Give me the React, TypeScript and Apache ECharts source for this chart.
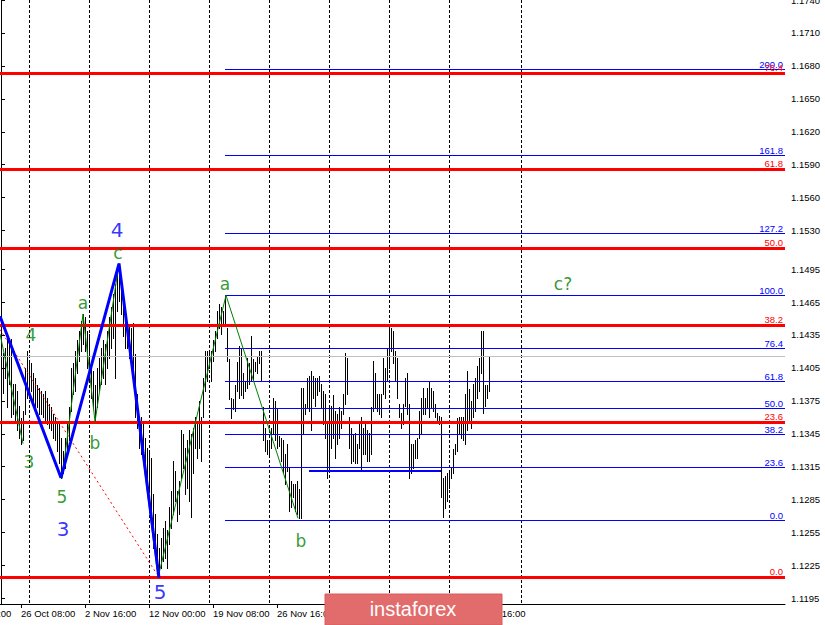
import React, { useEffect, useRef } from 'react';
import * as echarts from 'echarts';

// H4 bars: high / low for each bar index (0 = leftmost visible bar)
const highs = [
  1.1425, 1.1419, 1.1423, 1.1436, 1.1430, 1.1431, 1.1390, 1.1390, 1.1384, 1.1370,
  1.1359, 1.1366, 1.1405, 1.1420, 1.1411, 1.1409, 1.1400, 1.1396, 1.1389, 1.1387,
  1.1384, 1.1381, 1.1384, 1.1378, 1.1372, 1.1369, 1.1363, 1.1360, 1.1357, 1.1354,
  1.1341, 1.1329, 1.1341, 1.1354, 1.1369, 1.1405, 1.1409, 1.1420, 1.1430, 1.1439,
  1.1448, 1.1454, 1.1451, 1.1439, 1.1436, 1.1411, 1.1402, 1.1389, 1.1405, 1.1414,
  1.1423, 1.1430, 1.1427, 1.1439, 1.1451, 1.1460, 1.1472, 1.1481, 1.1493, 1.1500,
  1.1487, 1.1466, 1.1448, 1.1441, 1.1445, 1.1441, 1.1446, 1.1418, 1.1381, 1.1360,
  1.1360, 1.1354, 1.1341, 1.1332, 1.1329, 1.1323, 1.1290, 1.1272, 1.1254, 1.1241,
  1.1250, 1.1259, 1.1266, 1.1257, 1.1278, 1.1293, 1.1320, 1.1311, 1.1293, 1.1302,
  1.1348, 1.1345, 1.1332, 1.1339, 1.1348, 1.1345, 1.1350, 1.1360, 1.1357, 1.1375,
  1.1360, 1.1396, 1.1420, 1.1420, 1.1420, 1.1420, 1.1430, 1.1439, 1.1457, 1.1463,
  1.1460, 1.1457, 1.1471, 1.1441, 1.1413, 1.1378, 1.1377, 1.1389, 1.1410, 1.1425,
  1.1423, 1.1400, 1.1393, 1.1414, 1.1409, 1.1434, 1.1413, 1.1410, 1.1416, 1.1420,
  1.1420, 1.1369, 1.1350, 1.1339, 1.1339, 1.1350, 1.1378, 1.1375, 1.1368, 1.1343,
  1.1341, 1.1339, 1.1327, 1.1336, 1.1314, 1.1302, 1.1299, 1.1299, 1.1302, 1.1295,
  1.1387, 1.1387, 1.1372, 1.1396, 1.1398, 1.1402, 1.1398, 1.1396, 1.1396, 1.1398,
  1.1390, 1.1384, 1.1381, 1.1354, 1.1369, 1.1370, 1.1380, 1.1366, 1.1363, 1.1369,
  1.1366, 1.1381, 1.1419, 1.1414, 1.1360, 1.1350, 1.1345, 1.1346, 1.1336, 1.1357,
  1.1360, 1.1350, 1.1354, 1.1348, 1.1346, 1.1369, 1.1411, 1.1400, 1.1381, 1.1381,
  1.1381, 1.1414, 1.1405, 1.1423, 1.1441, 1.1441, 1.1439, 1.1420, 1.1414, 1.1372,
  1.1364, 1.1372, 1.1396, 1.1400, 1.1372, 1.1336, 1.1336, 1.1339, 1.1341, 1.1366,
  1.1378, 1.1387, 1.1378, 1.1387, 1.1393, 1.1387, 1.1384, 1.1372, 1.1364, 1.1361,
  1.1360, 1.1305, 1.1307, 1.1309, 1.1311, 1.1314, 1.1331, 1.1336, 1.1359, 1.1360,
  1.1360, 1.1360, 1.1381, 1.1402, 1.1386, 1.1375, 1.1390, 1.1396, 1.1407, 1.1414,
  1.1439, 1.1439, 1.1389, 1.1389, 1.1416,
];
const lows = [
  1.1389, 1.1382, 1.1396, 1.1369, 1.1390, 1.1360, 1.1363, 1.1357, 1.1348, 1.1341,
  1.1336, 1.1339, 1.1363, 1.1378, 1.1378, 1.1384, 1.1372, 1.1369, 1.1369, 1.1363,
  1.1363, 1.1360, 1.1357, 1.1354, 1.1350, 1.1348, 1.1341, 1.1339, 1.1329, 1.1318,
  1.1305, 1.1309, 1.1314, 1.1329, 1.1339, 1.1366, 1.1381, 1.1384, 1.1400, 1.1411,
  1.1420, 1.1427, 1.1420, 1.1405, 1.1393, 1.1378, 1.1369, 1.1356, 1.1369, 1.1384,
  1.1390, 1.1396, 1.1390, 1.1405, 1.1414, 1.1423, 1.1432, 1.1396, 1.1457, 1.1466,
  1.1454, 1.1434, 1.1423, 1.1423, 1.1414, 1.1405, 1.1393, 1.1360, 1.1350, 1.1332,
  1.1327, 1.1320, 1.1314, 1.1305, 1.1293, 1.1266, 1.1241, 1.1232, 1.1220, 1.1214,
  1.1223, 1.1229, 1.1232, 1.1223, 1.1245, 1.1259, 1.1272, 1.1284, 1.1266, 1.1272,
  1.1305, 1.1314, 1.1290, 1.1296, 1.1284, 1.1269, 1.1309, 1.1332, 1.1323, 1.1332,
  1.1320, 1.1360, 1.1384, 1.1393, 1.1405, 1.1393, 1.1411, 1.1420, 1.1432, 1.1441,
  1.1436, 1.1445, 1.1443, 1.1411, 1.1377, 1.1359, 1.1368, 1.1366, 1.1384, 1.1378,
  1.1380, 1.1378, 1.1384, 1.1387, 1.1390, 1.1393, 1.1393, 1.1402, 1.1400, 1.1409,
  1.1393, 1.1339, 1.1329, 1.1327, 1.1327, 1.1332, 1.1345, 1.1339, 1.1332, 1.1334,
  1.1320, 1.1309, 1.1299, 1.1311, 1.1275, 1.1278, 1.1287, 1.1275, 1.1272, 1.1268,
  1.1268, 1.1345, 1.1363, 1.1369, 1.1366, 1.1348, 1.1378, 1.1370, 1.1380, 1.1384,
  1.1369, 1.1354, 1.1341, 1.1305, 1.1311, 1.1332, 1.1341, 1.1323, 1.1336, 1.1341,
  1.1350, 1.1363, 1.1372, 1.1381, 1.1332, 1.1318, 1.1320, 1.1318, 1.1318, 1.1332,
  1.1311, 1.1327, 1.1327, 1.1320, 1.1320, 1.1327, 1.1366, 1.1369, 1.1366, 1.1363,
  1.1360, 1.1381, 1.1378, 1.1393, 1.1405, 1.1420, 1.1409, 1.1393, 1.1378, 1.1360,
  1.1350, 1.1354, 1.1370, 1.1363, 1.1305, 1.1309, 1.1314, 1.1323, 1.1323, 1.1341,
  1.1345, 1.1363, 1.1363, 1.1369, 1.1360, 1.1369, 1.1366, 1.1360, 1.1357, 1.1354,
  1.1287, 1.1269, 1.1277, 1.1284, 1.1296, 1.1305, 1.1309, 1.1327, 1.1329, 1.1345,
  1.1341, 1.1339, 1.1336, 1.1348, 1.1357, 1.1350, 1.1360, 1.1366, 1.1378, 1.1384,
  1.1400, 1.1364, 1.1370, 1.1378, 1.1384,
];

const yTicks = [
  1.1195, 1.1225, 1.1255, 1.1285, 1.1315, 1.1345, 1.1375, 1.1405, 1.1435, 1.1465,
  1.1495, 1.1530, 1.1560, 1.1590, 1.1620, 1.1650, 1.1680, 1.1710, 1.1740,
];
const xTickIdx = [10, 42, 74, 106, 138, 170, 202, 234];
const xTickText = [
  '26 Oct 08:00', '2 Nov 16:00', '12 Nov 00:00', '19 Nov 08:00',
  '26 Nov 16:00', '4 Dec 00:00', '11 Dec 08:00', '18 Dec 16:00',
];
const xFirstIdx = -22;
const xFirstText = '19 Oct 00:00';
const separators = [14, 44, 74, 104, 134, 164, 194, 224, 260];

const redLevels = [1.12147, 1.13558, 1.1444, 1.15144, 1.15861, 1.16739];
const redNames = ['0.0', '23.6', '38.2', '50.0', '61.8', '76.4'];
const blueLevels = [1.12666, 1.13151, 1.13449, 1.13685, 1.13931, 1.14231, 1.14713, 1.15278, 1.15987, 1.1677];
const blueNames = ['0.0', '23.6', '38.2', '50.0', '61.8', '76.4', '100.0', '127.2', '161.8', '200.0'];
const blueStart = 112;
const trendLevel = 1.1311;
const trendFrom = 154;
const trendTo = 220;
const currentPrice = 1.1416;

const waveBlue = [[-0.5, 1.1452], [30, 1.1305], [59, 1.15], [79, 1.1214]];
const waveGreenA = [[-0.5, 1.1436], [11, 1.1336]];
const waveGreenB = [[30.5, 1.1304], [41, 1.1454], [47, 1.1356], [59, 1.15], [78.5, 1.1214], [112.5, 1.1471], [148.5, 1.1268]];
const redDotted = [[-0.5, 1.144], [78, 1.1217]];

const GREEN = '#008000';
const BLUE = '#0000ff';
const RED = '#ff0000';
const waveLabelText = ['4', '3', '5', '3', 'a', 'b', '4', 'c', '5', 'a', 'b', 'c?'];
const waveLabelX = [15, 14, 30.5, 31, 41, 47, 58, 58.5, 79.5, 112, 150, 281];
const waveLabelY = [1.1435, 1.1319, 1.1287, 1.1258, 1.1464, 1.1337, 1.1531, 1.151, 1.1201, 1.1481, 1.1247, 1.1481];
const waveLabelBlue = [false, false, false, true, false, false, true, false, true, false, false, false];

const FONT = 'Liberation Sans';
const XMIN = -0.5;
const XMAX = 392;
const YMIN = 1.119;
const YMAX = 1.174;

export default function App() {
  const ref = useRef<HTMLDivElement>(null);
  useEffect(() => {
    if (!ref.current) return;
    const chart = echarts.init(ref.current, null, { renderer: 'svg' });
    const bars = highs.map((h, i) => [i, h, lows[i]]);

    type Lvl = { x1: number; x2: number; v: number; color: string; w: number; text: string };
    const levelRows: Lvl[] = [
      ...blueLevels.map((v, k) => ({ x1: blueStart, x2: XMAX, v, color: BLUE, w: 1, text: blueNames[k] })),
      { x1: trendFrom, x2: trendTo, v: trendLevel, color: BLUE, w: 2, text: '' },
      { x1: XMIN, x2: XMAX, v: currentPrice, color: '#c0c0c0', w: 1, text: '' },
      ...redLevels.map((v, k) => ({ x1: XMIN, x2: XMAX, v, color: RED, w: 3, text: redNames[k] })),
    ];

    const option: any = {
      animation: false,
      backgroundColor: '#fff',
      textStyle: { fontFamily: FONT },
      grid: { left: 0, right: 40, top: 0, bottom: 21, containLabel: false, outerBoundsMode: 'none' },
      xAxis: {
        type: 'value',
        min: XMIN,
        max: XMAX,
        axisLine: { show: true, lineStyle: { color: '#000', width: 1 } },
        axisTick: { show: true, customValues: xTickIdx, length: 4, lineStyle: { color: '#000' } },
        axisLabel: {
          show: true,
          customValues: xTickIdx,
          formatter: (v: number) => {
            const k = xTickIdx.indexOf(Math.round(v));
            return k >= 0 ? xTickText[k] : '';
          },
          align: 'left',
          color: '#000',
          fontSize: 9.5,
          fontFamily: FONT,
          margin: 4,
          hideOverlap: false,
        },
        splitLine: { show: false },
      },
      yAxis: {
        type: 'value',
        position: 'right',
        min: YMIN,
        max: YMAX,
        axisLine: { show: true, lineStyle: { color: '#000', width: 1 } },
        axisTick: { show: true, customValues: yTicks, length: 4, lineStyle: { color: '#000' } },
        axisLabel: {
          show: true,
          customValues: yTicks,
          formatter: (v: number) => v.toFixed(4),
          color: '#000',
          fontSize: 9.5,
          fontFamily: FONT,
          margin: 6,
          hideOverlap: false,
        },
        splitLine: { show: false },
      },
      series: [
        // weekly period separators
        {
          type: 'custom',
          z: 1,
          silent: true,
          encode: { x: 0 },
          data: separators.map((s) => [s]),
          renderItem: (params: any, api: any) => {
            const i = api.value(0);
            const top = api.coord([i, YMAX]);
            const bot = api.coord([i, YMIN]);
            const x = Math.round(top[0]) + 0.5;
            return {
              type: 'line',
              shape: { x1: x, y1: top[1], x2: x, y2: bot[1] },
              style: { stroke: '#000', lineWidth: 1, lineDash: [3, 2] },
            };
          },
        },
        // price bars
        {
          type: 'custom',
          z: 2,
          silent: true,
          encode: { x: 0, y: [1, 2] },
          data: bars,
          renderItem: (params: any, api: any) => {
            const i = api.value(0);
            const hi = api.coord([i, api.value(1)]);
            const lo = api.coord([i, api.value(2)]);
            const x = Math.round(hi[0]) + 0.5;
            return {
              type: 'line',
              shape: { x1: x, y1: Math.round(hi[1]), x2: x, y2: Math.round(lo[1]) + 1 },
              style: { stroke: '#000', lineWidth: 1 },
            };
          },
        },
        // horizontal levels (fibo, trend, current price)
        {
          type: 'custom',
          z: 3,
          silent: true,
          clip: false,
          encode: { x: [0, 2], y: 1 },
          data: levelRows.map((r) => [r.x1, r.v, r.x2]),
          renderItem: (params: any, api: any) => {
            const r = levelRows[params.dataIndex];
            const p0 = api.coord([api.value(0), api.value(1)]);
            const p1 = api.coord([api.value(2), api.value(1)]);
            const y = r.w % 2 === 1 ? Math.round(p0[1]) + 0.5 : Math.round(p0[1]);
            const children: any[] = [
              {
                type: 'line',
                shape: { x1: Math.round(p0[0]), y1: y, x2: Math.round(p1[0]), y2: y },
                style: { stroke: r.color, lineWidth: r.w },
              },
            ];
            if (r.text) {
              children.push({
                type: 'text',
                x: Math.round(p1[0]) - 2,
                y: y - r.w / 2,
                style: {
                  text: r.text,
                  fill: r.color,
                  fontSize: 9.5,
                  fontFamily: FONT,
                  align: 'right',
                  verticalAlign: 'bottom',
                },
              });
            }
            return { type: 'group', children };
          },
        },
        // current price tag
        {
          type: 'line',
          z: 3,
          data: [[XMIN, currentPrice]],
          showSymbol: false,
          silent: true,
          lineStyle: { opacity: 0 },
          markLine: {
            silent: true,
            precision: 6,
            symbol: ['none', 'none'],
            lineStyle: { opacity: 0 },
            data: [
              {
                yAxis: currentPrice,
                label: {
                  show: true,
                  position: 'end',
                  formatter: currentPrice.toFixed(4),
                  color: '#fff',
                  backgroundColor: '#000',
                  padding: [1, 4, 0, 4],
                  fontSize: 9.5,
                  fontFamily: FONT,
                  distance: 2,
                },
              },
            ],
          },
        },
        {
          type: 'line',
          z: 4,
          data: redDotted,
          showSymbol: false,
          silent: true,
          lineStyle: { color: RED, width: 1, type: [2, 3] },
        },
        {
          type: 'line',
          z: 4,
          data: waveGreenA,
          showSymbol: false,
          silent: true,
          lineStyle: { color: GREEN, width: 1 },
        },
        {
          type: 'line',
          z: 4,
          data: waveGreenB,
          showSymbol: false,
          silent: true,
          lineStyle: { color: GREEN, width: 1 },
        },
        {
          type: 'line',
          z: 5,
          data: waveBlue,
          showSymbol: false,
          silent: true,
          lineStyle: { color: BLUE, width: 3 },
        },
        {
          type: 'scatter',
          z: 6,
          silent: true,
          symbolSize: 1,
          itemStyle: { color: 'rgba(0,0,0,0)' },
          data: waveLabelText.map((t, k) => ({
            value: [waveLabelX[k], waveLabelY[k]],
            label: {
              show: true,
              formatter: t,
              position: 'inside',
              color: waveLabelBlue[k] ? BLUE : GREEN,
              fontSize: waveLabelBlue[k] ? 20 : 17,
              fontFamily: 'DejaVu Sans',
            },
          })),
        },
      ],
      graphic: [
        {
          id: 'logoRect',
          type: 'rect',
          z: 100,
          shape: { x: 325, y: 594, width: 177, height: 31 },
          style: { fill: '#e26b6b', stroke: '#d65e5e', lineWidth: 1 },
        },
        {
          id: 'logoText',
          type: 'text',
          z: 101,
          x: 413,
          y: 609,
          style: {
            text: 'instaforex',
            fill: '#ffffff',
            fontSize: 20,
            fontFamily: FONT,
            align: 'center',
            verticalAlign: 'middle',
          },
        },
      ],
    };
    chart.setOption(option);
    const fx = chart.convertToPixel({ xAxisIndex: 0 }, xFirstIdx) as number;
    chart.setOption({
      graphic: [
        {
          id: 'firstLabel',
          type: 'text',
          z: 50,
          x: fx,
          y: 608,
          style: {
            text: xFirstText,
            fill: '#000',
            fontSize: 9.5,
            fontFamily: FONT,
            align: 'left',
            verticalAlign: 'top',
          },
        },
      ],
    });
    return () => chart.dispose();
  }, []);
  return (
    <div
      ref={ref}
      style={{ position: 'fixed', left: 0, top: 0, width: 825, height: 625, background: '#fff' }}
    />
  );
}
